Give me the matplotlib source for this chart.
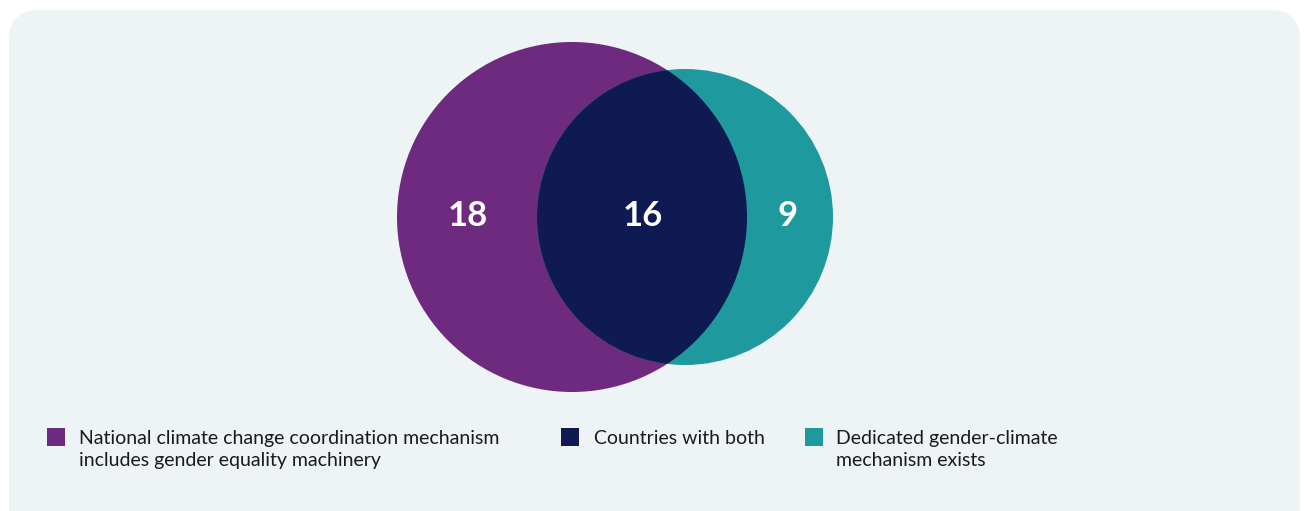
import matplotlib
matplotlib.use("Agg")
import matplotlib.pyplot as plt
from matplotlib.patches import Circle, FancyBboxPatch, Rectangle

categories = ["National climate change coordination mechanism\nincludes gender equality machinery",
              "Countries with both",
              "Dedicated gender-climate\nmechanism exists"]
values = [18, 16, 9]
colors = ["#6E2A7E", "#0F1A53", "#1E9A9E"]

W, H = 1304, 511
fig = plt.figure(figsize=(W / 100, H / 100), dpi=100)
fig.patch.set_facecolor("white")
ax = fig.add_axes([0, 0, 1, 1])
ax.set_xlim(0, W)
ax.set_ylim(H, 0)
ax.set_aspect("equal")
ax.axis("off")

# panel
panel = FancyBboxPatch((9 + 30, 10 + 30), 1291 - 60, 540 - 60,
                       boxstyle="round,pad=30", fc="#EEF3F6", ec="none")
ax.add_patch(panel)

# circles
left = Circle((572, 217), 175, fc=colors[0], ec="none", zorder=2)
right = Circle((685, 217), 148, fc=colors[2], ec="none", zorder=2)
ax.add_patch(left)
ax.add_patch(right)
clip = Circle((572, 217), 175, transform=ax.transData)
inter = Circle((685, 217), 148, fc=colors[1], ec="none", zorder=3)
ax.add_patch(inter)
inter.set_clip_path(clip)

fam = ["Lato", "DejaVu Sans"]
num_x = [468, 643, 788]
for v, x in zip(values, num_x):
    ax.text(x, 216, str(v), ha="center", va="center", color="white",
            fontsize=25, fontweight="bold", family=fam, zorder=5)

# legend
sq_x = [47, 561, 805]
tx_x = [79, 594, 836]
for lab, c, sx, tx in zip(categories, colors, sq_x, tx_x):
    ax.add_patch(Rectangle((sx, 428), 18, 18, fc=c, ec="none", zorder=4))
    for i, line in enumerate(lab.split("\n")):
        ax.text(tx, 444 + 22 * i, line, ha="left", va="baseline", color="#1A1A1A",
                fontsize=14, family=fam, zorder=4)

fig.savefig("out.png", dpi=100, facecolor="white")
